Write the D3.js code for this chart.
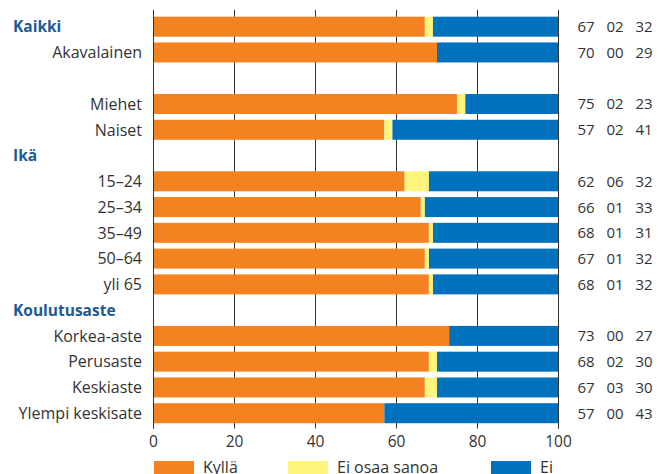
<!DOCTYPE html>
<html>
<head>
<meta charset="utf-8">
<script src="https://cdn.jsdelivr.net/npm/d3@7"></script>
<style>
  html, body { margin: 0; padding: 0; background: #fff; }
  svg { display: block; font-family: "Open Sans", "DejaVu Sans", sans-serif; }
  .lbl { fill: #333; font-size: 16px; }
  .head { fill: #1d5a94; font-size: 15.5px; font-weight: bold; }
  .val { fill: #333; font-size: 15px; }
  .tick { fill: #333; font-size: 15.5px; }
  .grid { stroke: #333; stroke-width: 1; }
</style>
</head>
<body>
<div id="chart"></div>
<script>
  // Rows top to bottom; empty string is a spacer row.
  var categories = ["Kaikki", "Akavalainen", "", "Miehet", "Naiset", "Ikä",
    "15–24", "25–34", "35–49", "50–64", "yli 65", "Koulutusaste",
    "Korkea-aste", "Perusaste", "Keskiaste", "Ylempi keskisate"];
  var headings = ["Kaikki", "Ikä", "Koulutusaste"];

  // Shares (%); null = row without a bar.
  var kylla = [67, 70, null, 75, 57, null, 62, 66, 68, 67, 68, null, 73, 68, 67, 57];
  var eos   = [2, 0, null, 2, 2, null, 6, 1, 1, 1, 1, null, 0, 2, 3, 0];
  var ei    = [32, 29, null, 23, 41, null, 32, 33, 31, 32, 32, null, 27, 30, 30, 43];

  var seriesNames = ["Kyllä", "Ei osaa sanoa", "Ei"];
  var seriesColors = ["#f58220", "#fff57e", "#0071bc"];
  var ticks = [0, 20, 40, 60, 80, 100];

  var W = 669, H = 474;

  var svg = d3.select("#chart").append("svg")
    .attr("width", W).attr("height", H);

  var x = d3.scaleLinear().domain([0, 100]).range([153.5, 558.5]);
  var y = d3.scaleBand()
    .domain(d3.range(categories.length))
    .range([13.8, 426.1])
    .paddingInner(0.224)
    .paddingOuter(0.112);

  // gridlines behind bars
  svg.append("g").selectAll("line")
    .data(ticks)
    .join("line")
    .attr("class", "grid")
    .attr("x1", x).attr("x2", x)
    .attr("y1", 10).attr("y2", 428.5);

  var rows = d3.range(categories.length).filter(function (i) { return kylla[i] !== null; });

  // stacked segments: Kyllä, Ei osaa sanoa, then Ei fills the rest up to 100
  var segs = [];
  rows.forEach(function (i) {
    var a = kylla[i], b = a + eos[i];
    segs.push({ i: i, x0: 0, x1: a, c: seriesColors[0] });
    segs.push({ i: i, x0: a, x1: b, c: seriesColors[1] });
    segs.push({ i: i, x0: b, x1: 100, c: seriesColors[2] });
  });

  svg.append("g").selectAll("rect")
    .data(segs)
    .join("rect")
    .attr("x", function (d) { return x(d.x0); })
    .attr("width", function (d) { return Math.max(0, x(d.x1) - x(d.x0)); })
    .attr("y", function (d) { return y(d.i); })
    .attr("height", y.bandwidth())
    .attr("fill", function (d) { return d.c; });

  // 0 and 100 lines over bars
  svg.append("g").selectAll("line")
    .data([0, 100])
    .join("line")
    .attr("class", "grid")
    .attr("x1", x).attr("x2", x)
    .attr("y1", 10).attr("y2", 428.5);

  // row labels
  svg.append("g").selectAll("text")
    .data(d3.range(categories.length).filter(function (i) { return categories[i] !== ""; }))
    .join("text")
    .attr("class", function (i) { return headings.indexOf(categories[i]) >= 0 ? "head" : "lbl"; })
    .attr("x", function (i) { return headings.indexOf(categories[i]) >= 0 ? 13 : 142; })
    .attr("y", function (i) { return y(i) + y.bandwidth() / 2 + 5.8; })
    .attr("text-anchor", function (i) { return headings.indexOf(categories[i]) >= 0 ? "start" : "end"; })
    .text(function (i) { return categories[i]; });

  // value columns
  var fmt = d3.format("02d");
  var cols = [kylla, eos, ei];
  var colX = [586, 615, 644];
  cols.forEach(function (arr, k) {
    svg.append("g").selectAll("text")
      .data(rows)
      .join("text")
      .attr("class", "val")
      .attr("x", colX[k])
      .attr("y", function (i) { return y(i) + y.bandwidth() / 2 + 5.5; })
      .attr("text-anchor", "middle")
      .text(function (i) { return fmt(arr[i]); });
  });

  // x tick labels
  svg.append("g").selectAll("text")
    .data(ticks)
    .join("text")
    .attr("class", "tick")
    .attr("x", x)
    .attr("y", 447)
    .attr("text-anchor", "middle")
    .text(function (d) { return d; });

  // legend (cut by the bottom edge, as in the source)
  var legX = [154, 288, 491];
  var leg = svg.append("g").selectAll("g")
    .data(seriesNames)
    .join("g")
    .attr("transform", function (d, k) { return "translate(" + legX[k] + ",461)"; });
  leg.append("rect")
    .attr("width", 40).attr("height", 16)
    .attr("fill", function (d, k) { return seriesColors[k]; });
  leg.append("text")
    .attr("class", "lbl")
    .attr("x", 49).attr("y", 12)
    .text(function (d) { return d; });
</script>
</body>
</html>
